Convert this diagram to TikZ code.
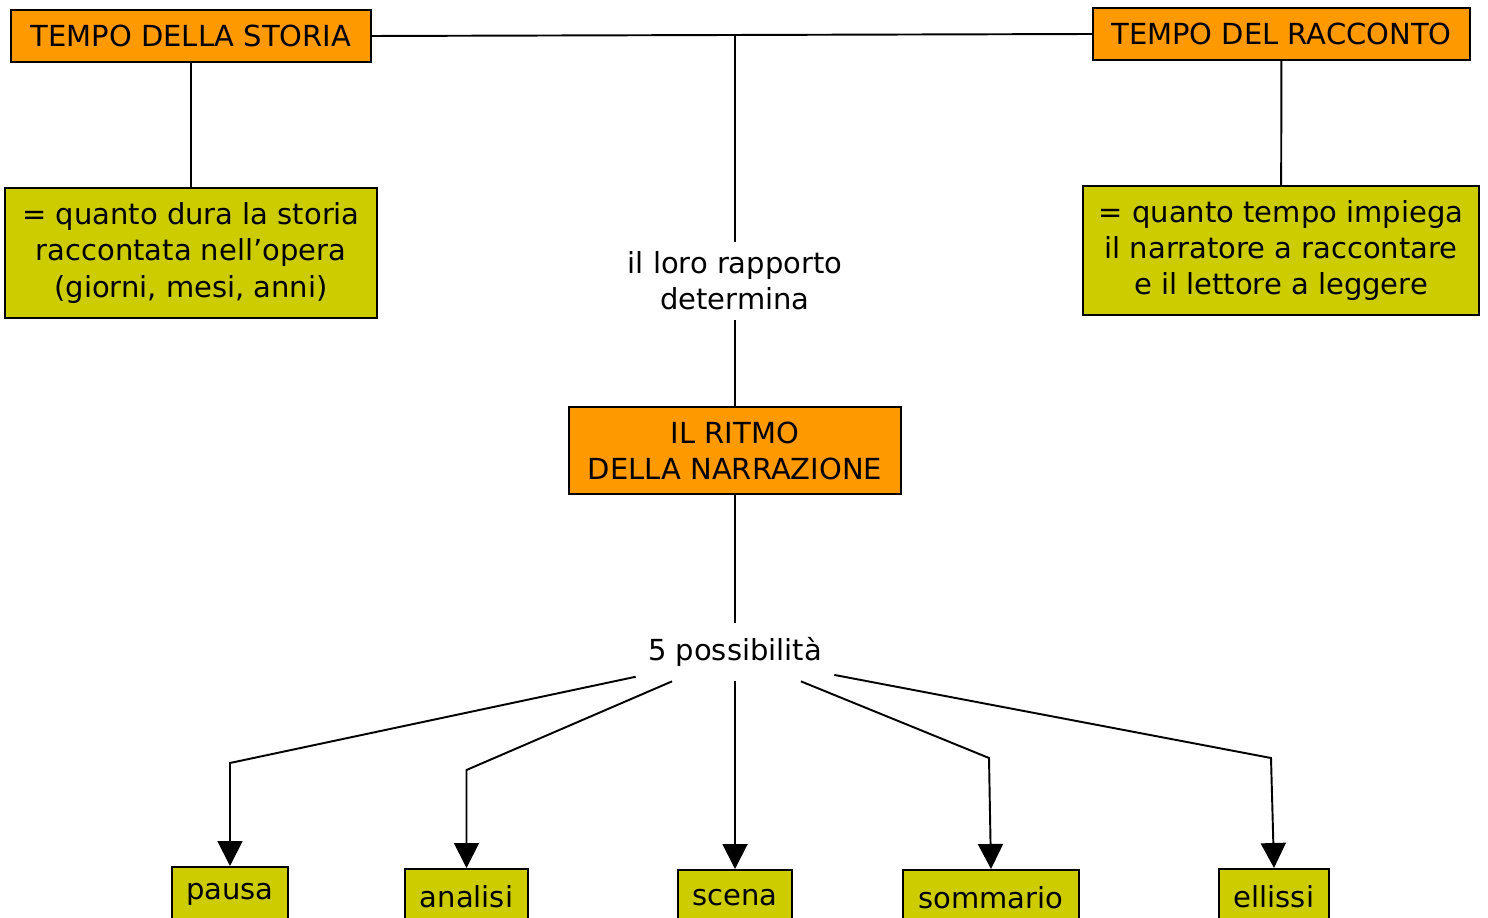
\documentclass[tikz,border=0pt]{standalone}
\usepackage{fontspec}
\setmainfont{DejaVu Sans}
\usetikzlibrary{positioning,arrows.meta}
\definecolor{arancio}{RGB}{255,153,0}
\definecolor{verde}{RGB}{204,204,0}
\tikzset{
  testo/.style={font=\fontsize{16.5}{20.5}\selectfont,align=center,inner sep=0pt},
  titolo/.style={testo,draw=black,fill=arancio,line width=1.1pt},
  nota/.style={testo,draw=black,fill=verde,line width=1.1pt},
  scelta/.style={nota,anchor=north,minimum height=1.1cm},
  linea/.style={line width=1.1pt},
  freccia/.style={line width=1.1pt,-{Triangle[width=0.5cm,length=0.5cm]}}
}

\begin{document}
\begin{tikzpicture}[x=0.02cm,y=-0.02cm]
\useasboundingbox (0,0) rectangle (1488,918);
\clip (0,0) rectangle (1488,918);
% TEMPO
\node[titolo,minimum width=7.2cm,minimum height=1.04cm] (storia) at (191,36) {TEMPO DELLA STORIA};
\node[titolo,minimum width=7.54cm,minimum height=1.04cm] (racconto) at (1281.5,34) {TEMPO DEL RACCONTO};
\node[nota,minimum width=7.44cm,minimum height=2.6cm] (durastoria) at (191,253) {= quanto dura la storia\\raccontata nell’opera\\(giorni, mesi, anni)};
\node[nota,minimum width=7.92cm,minimum height=2.58cm] (duraracconto) at (1281,250.5) {= quanto tempo impiega\\il narratore a raccontare\\e il lettore a leggere};
\draw[linea] (storia) -- (durastoria); % sinistra
\draw[linea] (racconto) -- (duraracconto); % destra
\draw[linea] (storia.east) -- (racconto.west); % orizzontale
% RITMO
\node[titolo,minimum width=6.64cm,minimum height=1.74cm] (ritmo) at (735,450.5) {IL RITMO\\DELLA NARRAZIONE};
\node[testo,minimum height=1.56cm] (rapporto) at (735,281) {il loro rapporto\\determina};
\coordinate (incrocio) at (ritmo.north |- storia.east);
\draw[linea] (incrocio) -- (rapporto.north);
\draw[linea] (rapporto.south) -- (ritmo.north);
% possibilita
\node[testo,minimum width=3.96cm,minimum height=1.16cm] (possibili) at (735,652) {5 possibilità};
\draw[linea] (ritmo.south) -- (possibili.north);
\node[scelta,minimum width=2.32cm] (pausa) at (230,866) {pausa};
\node[scelta,minimum width=2.46cm] (analisi) at (466.5,868) {analisi};
\node[scelta,minimum width=2.28cm] (scena) at (735,869) {scena};
\node[scelta,minimum width=3.52cm] (sommario) at (991,869) {sommario};
\node[scelta,minimum width=2.2cm] (ellissi) at (1274,868) {ellissi};
\draw[freccia] (possibili.194) -- (230,763) -- (pausa.north);
\draw[freccia] (possibili.205) -- (466.5,770) -- (analisi.north);
\draw[freccia] (possibili.south) -- (scena.north);
\draw[freccia] (possibili.336) -- (989,758) -- (sommario.north);
\draw[freccia] (possibili.347) -- (1271,758) -- (ellissi.north);
\end{tikzpicture}
\end{document}
